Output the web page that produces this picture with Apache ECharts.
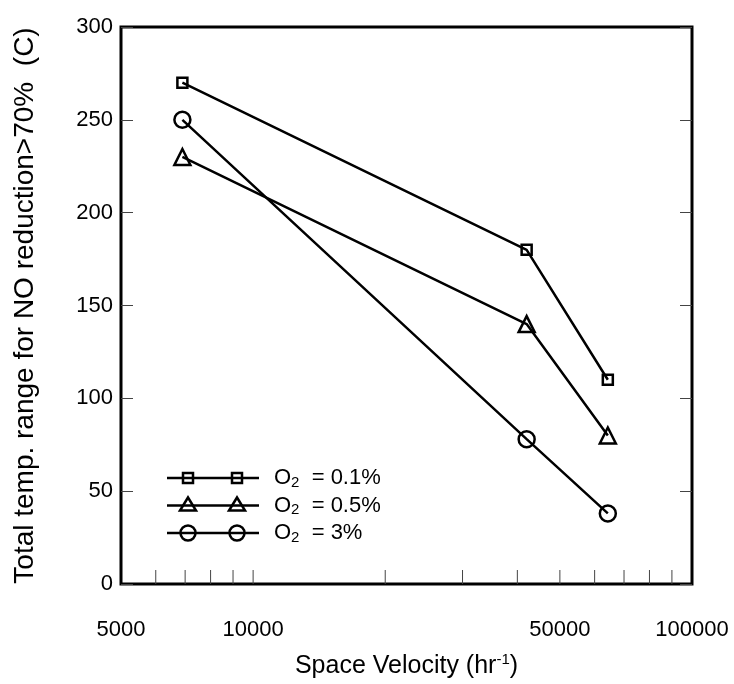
<!DOCTYPE html>
<html>
<head>
<meta charset="utf-8">
<script src="https://cdn.jsdelivr.net/npm/echarts@6/dist/echarts.min.js"></script>
<style>
html,body{margin:0;padding:0;background:#fff;}
#chart{width:734px;height:684px;}
</style>
</head>
<body>
<div id="chart"></div>
<script>
// ---- data ----
const velocity01 = [6900, 42000, 64300];
const temp01 = [270, 180, 110];
const velocity05 = [6900, 42000, 64300];
const temp05 = [230, 140, 80];
const velocity3 = [6900, 42000, 64300];
const temp3 = [250, 78, 38];
const seriesNames = ['O2 = 0.1%', 'O2 = 0.5%', 'O2 = 3%'];
const legendValues = ['0.1%', '0.5%', '3%'];
const xTickValues = [6000, 7000, 8000, 9000, 10000, 20000, 30000, 40000, 50000, 60000, 70000, 80000, 90000];
const xLabelValues = [5000, 10000, 50000, 100000];

const FONT = 'Liberation Sans, Arial, sans-serif';
const chart = echarts.init(document.getElementById('chart'), null, {renderer: 'canvas'});

function pairs(xs, ys) { return xs.map((x, i) => [x, ys[i]]); }

const markerStyle = {color: 'rgba(0,0,0,0)', borderColor: '#000', borderWidth: 2.5};
const lineStyle = {color: '#000', width: 2.5};

// legend drawn as graphic
const legendGraphics = [];
const legendX0 = 167, legendX1 = 259, legendY0 = 478, legendDY = 27.5;
legendValues.forEach((v, i) => {
  const y = legendY0 + i * legendDY;
  legendGraphics.push({type: 'line', shape: {x1: legendX0, y1: y, x2: legendX1, y2: y}, style: {stroke: '#000', lineWidth: 2.5}});
  [188, 237].forEach(cx => {
    if (i === 0) legendGraphics.push({type: 'rect', shape: {x: cx - 5, y: y - 5, width: 10, height: 10}, style: {fill: 'none', stroke: '#000', lineWidth: 2.5}});
    else if (i === 1) legendGraphics.push({type: 'polygon', shape: {points: [[cx, y - 8], [cx - 8, y + 5], [cx + 8, y + 5]]}, style: {fill: 'none', stroke: '#000', lineWidth: 2.5}});
    else legendGraphics.push({type: 'circle', shape: {cx: cx, cy: y, r: 7.5}, style: {fill: 'none', stroke: '#000', lineWidth: 2.5}});
  });
  legendGraphics.push({
    type: 'text', x: 274, y: y, style: {
      text: '{m|O}{s|2}{m|  = ' + v + '}', verticalAlign: 'middle', fill: '#000',
      rich: {
        m: {fontSize: 22, fontFamily: FONT, fill: '#000', lineHeight: 24},
        s: {fontSize: 15, fontFamily: FONT, fill: '#000', lineHeight: 15, verticalAlign: 'bottom', padding: [13, 0, 0, 0]}
      }
    }
  });
});

const option = {
  animation: false,
  backgroundColor: '#fff',
  grid: {left: 121, right: 42, top: 27, bottom: 87, show: true, borderColor: '#000', borderWidth: 3, backgroundColor: 'transparent'},
  xAxis: {
    type: 'log', logBase: 10, min: 5000, max: 100000,
    axisLine: {show: false},
    axisTick: {show: false},
    axisLabel: {show: false},
    splitLine: {show: false},
    minorTick: {show: false},
    name: 'Space Velocity (hr{sup|-1})',
    nameLocation: 'middle', nameGap: 68,
    nameTextStyle: {
      fontSize: 25, fontFamily: FONT, color: '#000',
      rich: {sup: {fontSize: 15, fontFamily: FONT, color: '#000', verticalAlign: 'top', padding: [0, 0, 14, 0]}}
    }
  },
  yAxis: [{
    type: 'value', min: 0, max: 300, interval: 50,
    axisLine: {show: false},
    axisTick: {show: true, inside: true, length: 12, lineStyle: {color: '#444', width: 1}},
    axisLabel: {fontSize: 22, fontFamily: FONT, color: '#000', margin: 8},
    splitLine: {show: false},
    name: 'Total temp. range for NO reduction>70%  (C)',
    nameLocation: 'middle', nameRotate: 90, nameGap: 82,
    nameTextStyle: {fontSize: 28, fontFamily: FONT, color: '#000'}
  }, {
    type: 'value', min: 0, max: 300, interval: 50, position: 'right',
    axisLine: {show: false},
    axisTick: {show: true, inside: true, length: 12, lineStyle: {color: '#444', width: 1}},
    axisLabel: {show: false},
    splitLine: {show: false}
  }],
  graphic: legendGraphics,
  series: [
    {
      type: 'custom', name: 'xticks', coordinateSystem: 'cartesian2d', clip: false, silent: true,
      data: xTickValues.map(v => [v, 0]),
      renderItem: function (params, api) {
        const p = api.coord([api.value(0), 0]);
        return {type: 'line', shape: {x1: p[0], y1: p[1], x2: p[0], y2: p[1] - 14}, style: {stroke: '#444', lineWidth: 1}};
      }
    },
    {
      type: 'custom', name: 'xlabels', coordinateSystem: 'cartesian2d', clip: false, silent: true,
      data: xLabelValues.map(v => [v, 0]),
      renderItem: function (params, api) {
        const v = api.value(0);
        const p = api.coord([v, 0]);
        return {type: 'text', x: p[0], y: p[1] + 46, style: {text: String(v), align: 'center', verticalAlign: 'middle', fontSize: 22, fontFamily: FONT, fill: '#000'}};
      }
    },
    {name: seriesNames[0], type: 'line', data: pairs(velocity01, temp01), symbol: 'rect', symbolSize: 10, itemStyle: markerStyle, lineStyle: lineStyle},
    {name: seriesNames[1], type: 'line', data: pairs(velocity05, temp05), symbol: 'triangle', symbolSize: 16, itemStyle: markerStyle, lineStyle: lineStyle},
    {name: seriesNames[2], type: 'line', data: pairs(velocity3, temp3), symbol: 'circle', symbolSize: 16, itemStyle: markerStyle, lineStyle: lineStyle}
  ]
};
chart.setOption(option);
</script>
</body>
</html>
